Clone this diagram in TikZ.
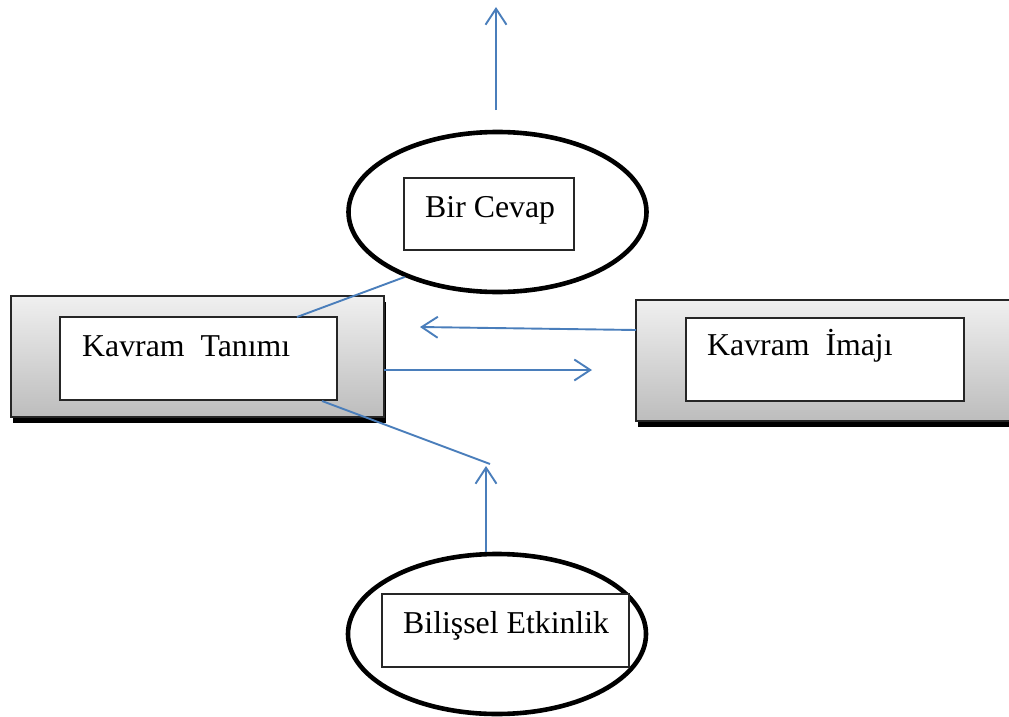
\documentclass[tikz,border=0pt]{standalone}
\usepackage{fontspec}
\setmainfont{Liberation Serif}
\usetikzlibrary{arrows.meta,shapes.geometric,shadows}
\definecolor{linkblue}{RGB}{74,126,187}
\begin{document}
\begin{tikzpicture}[x=1pt,y=-1pt,
  outerbox/.style={draw=black!85,line width=1.3pt,inner sep=0pt,
    top color=gray!12,bottom color=gray!52,
    drop shadow={shadow xshift=1.5pt,shadow yshift=-6pt,fill=black,opacity=1}},
  innerbox/.style={draw=black!85,line width=1.2pt,fill=white,inner sep=0pt},
  oval/.style={ellipse,draw=black,line width=4.6pt,fill=white,inner sep=0pt},
  boxtext/.style={anchor=base west,inner sep=0pt,font=\fontsize{31.8}{36}\selectfont},
  link/.style={draw=linkblue,line width=1.9pt},
  arr/.style={link,-{Straight Barb[length=16pt,width=21pt,line width=1.9pt]}}
]
\useasboundingbox (0,0) rectangle (1009,717);

% concept definition box (left)
\node[outerbox,minimum width=373pt,minimum height=121pt] (defOut) at (197.5,356.5) {};
\node[innerbox,minimum width=277pt,minimum height=83pt] (defIn) at (198.5,358.5) {};
\node[boxtext] (defTxt) at (82,356) {Kavram~~Tanımı};

% concept image box (right)
\node[outerbox,minimum width=378pt,minimum height=121pt] (imgOut) at (825,360.5) {};
\node[innerbox,minimum width=278pt,minimum height=83pt] (imgIn) at (825,359.5) {};
\node[boxtext] (imgTxt) at (707,355) {Kavram~~İmajı};

% response oval (top)
\node[oval,minimum width=298pt,minimum height=160pt] (ansOval) at (497.5,212) {};
\node[innerbox,minimum width=170pt,minimum height=72pt] (ansIn) at (489,214) {};
\node[boxtext] (ansTxt) at (425,217) {Bir Cevap};

% cognitive activity oval (bottom)
\node[oval,minimum width=298pt,minimum height=160pt] (actOval) at (497,634) {};
\node[innerbox,minimum width=247pt,minimum height=73pt] (actIn) at (505.5,630.5) {};
\node[boxtext] (actTxt) at (403,633) {Bilişsel Etkinlik};

% free ends of the connectors
\coordinate (upFrom) at (496,110);
\coordinate (upTo) at (496,7);
\coordinate (defTop) at (297,317);
\coordinate (imgLeft) at (636,330);
\coordinate (leftTip) at (420,327);
\coordinate (defRight) at (384,370);
\coordinate (rightTip) at (592,370);
\coordinate (defBottom) at (322,401);
\coordinate (meet) at (490,464);
\coordinate (actTop) at (486,552);
\coordinate (upTip) at (486,466);

% connectors
\draw[arr] (upFrom) -- (upTo);
\draw[link] (ansOval.215) -- (defTop);
\draw[arr] (imgLeft) -- (leftTip);
\draw[arr] (defRight) -- (rightTip);
\draw[link] (defBottom) -- (meet);
\draw[arr] (actTop) -- (upTip);
\end{tikzpicture}
\end{document}
